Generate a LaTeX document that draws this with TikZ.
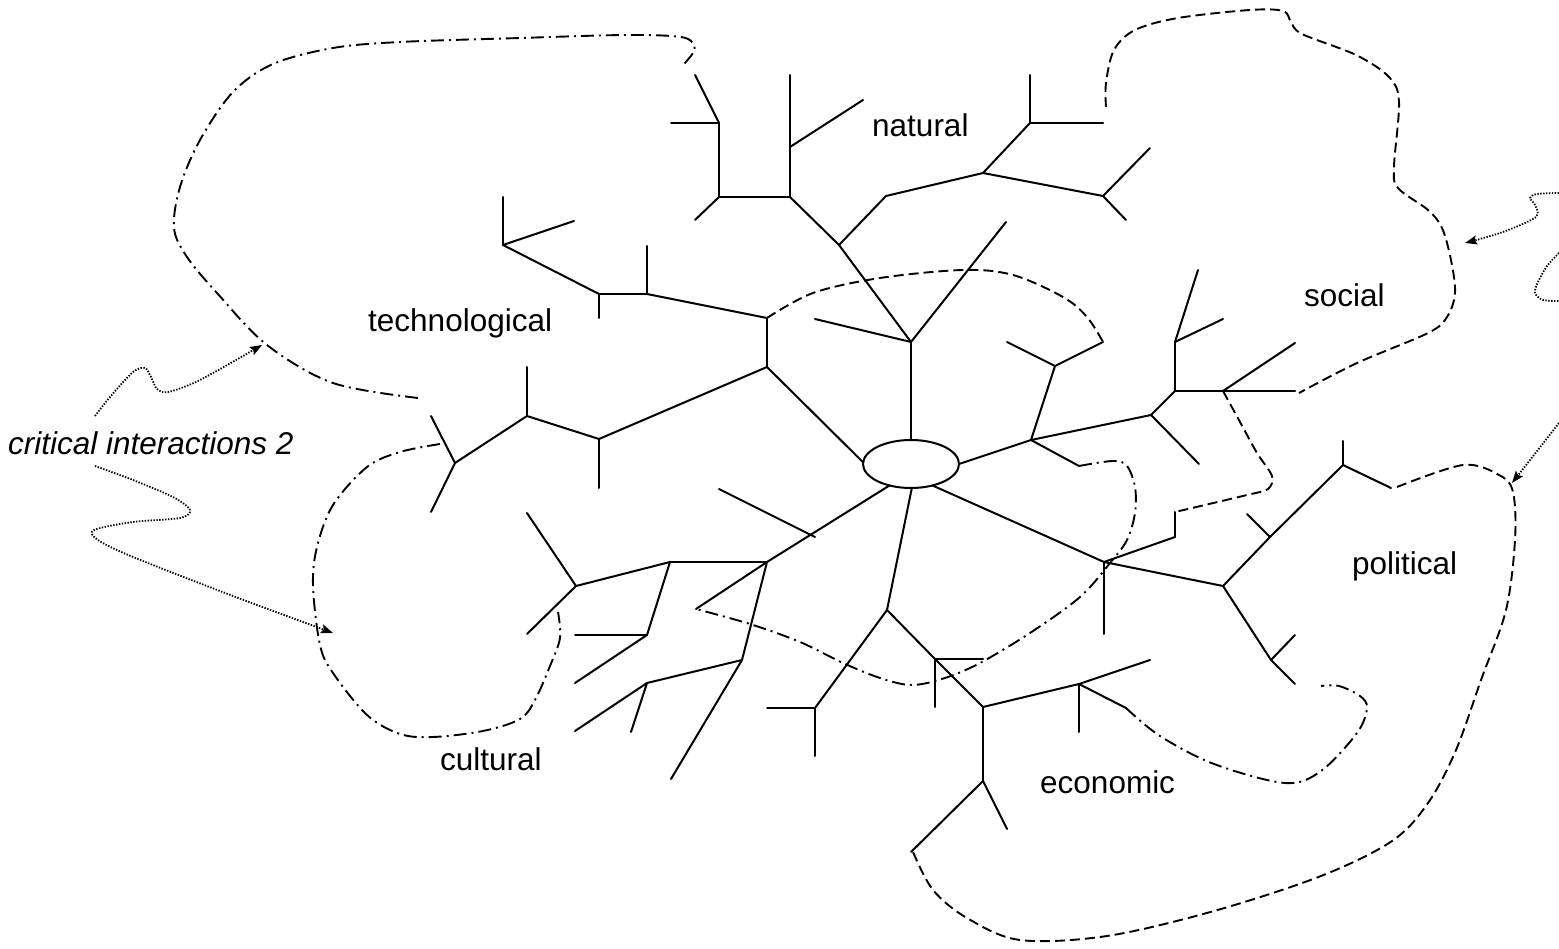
\documentclass[tikz,border=0pt]{standalone}
\usepackage{fontspec}
\setmainfont{Liberation Sans}
\usetikzlibrary{shapes.geometric,arrows.meta}

\tikzset{
  branch/.style={line width=2pt, line cap=round, line join=round},
  dashline/.style={line width=1.9pt, dash pattern=on 10pt off 5pt},
  dashdotline/.style={line width=1.9pt, dash pattern=on 13pt off 5pt on 2pt off 5pt},
  dotline/.style={line width=1.8pt, dash pattern=on 1.4pt off 1.5pt,
    -{Stealth[length=12pt,width=9pt,inset=2pt]}},
  dotplain/.style={line width=1.8pt, dash pattern=on 1.4pt off 1.5pt},
  lbl/.style={anchor=base west, inner sep=0pt, font=\fontsize{31.5}{36}\selectfont},
}

\begin{document}
\begin{tikzpicture}[x=1pt,y=-1pt]
\useasboundingbox (0,0) rectangle (1559,949);

% central hub
\node[draw, ellipse, line width=2pt, minimum width=96pt, minimum height=48pt,
      inner sep=0pt, outer sep=0pt] (hub) at (911,464) {};

% junctions (n..) and branch ends (t..)
\foreach \n/\x/\y in {
  n1/911/342, t1/815/319, t2/1006/222, n2/839/245, n3/790/197, n4/886/196,
  n5/983/173, n6/1030/123, t3/1030/75, t4/1103/123, n7/1103/196, t5/1150/148,
  t6/1126/220, na/790/147, t7/790/75, t8/863/100, n8/719/197, n9/719/123,
  t9/671/123, t10/695/75, t11/695/220,
  n10/767/367, n11/767/318, n12/647/294, t12/647/246, n13/599/294, t13/599/318,
  n14/503/245, t14/503/197, t15/574/221, n15/599/439, t16/599/488, n16/527/416,
  t17/527/367, n17/455/463, t18/431/416, t19/431/512,
  n18/767/562, c1/719/489, c2/815/537, n19/670/562, t20/696/609, n20/742/660,
  n21/576/586, t21/527/513, t22/527/634, n22/647/635, t23/575/635, t24/575/683,
  n23/647/683, t25/575/731, t26/631/732, t27/671/779,
  n24/887/610, n25/815/708, t28/767/708, t29/815/756, n26/935/659, t30/983/659,
  t31/935/707, n27/983/707, n28/1079/684, t32/1150/660, t33/1079/732,
  t34/1126/708, n29/983/781, t35/911/852, t36/1007/829,
  n30/1104/562, t37/1104/634, n40/1175/537, t38/1175/512, n31/1223/586,
  n41/1270/537, t39/1247/514, n32/1343/465, t40/1343/441, t41/1391/488,
  n33/1271/660, t42/1295/635, t43/1295/684,
  n34/1031/440, n35/1055/366, t44/1007/342, t45/1103/342, t46/1079/466,
  n36/1151/415, t47/1199/464, n37/1175/391, n38/1175/342, t48/1198/270,
  t49/1223/319, n39/1223/391, t50/1295/391, t51/1295/343}
  \coordinate (\n) at (\x,\y);

% tree branches
\foreach \a/\b in {
  hub.north/n1, n1/t1, n1/t2, n1/n2, n2/n3, n2/n4, n4/n5, n5/n6, n6/t3, n6/t4,
  n5/n7, n7/t5, n7/t6, n3/na, na/t7, na/t8, n3/n8, n8/n9, n9/t9, n9/t10, n8/t11,
  hub.178/n10, n10/n11, n11/n12, n12/t12, n12/n13, n13/t13, n13/n14, n14/t14,
  n14/t15, n10/n15, n15/t16, n15/n16, n16/t17, n16/n17, n17/t18, n17/t19,
  hub.-135/n18, c1/c2, n18/n19, n18/t20, n18/n20, n19/n21, n21/t21, n21/t22,
  n19/n22, n22/t23, n22/t24, n20/n23, n23/t25, n23/t26, n20/t27,
  hub.-88/n24, n24/n25, n25/t28, n25/t29, n24/n26, n26/t30, n26/t31, n26/n27,
  n27/n28, n28/t32, n28/t33, n28/t34, n27/n29, n29/t35, n29/t36,
  hub.-45/n30, n30/t37, n30/n40, n40/t38, n30/n31, n31/n41, n41/n32, n41/t39,
  n32/t40, n32/t41, n31/n33, n33/t42, n33/t43,
  hub.east/n34, n34/n35, n35/t44, n35/t45, n34/t46, n34/n36, n36/t47, n36/n37,
  n37/n38, n38/t48, n38/t49, n37/n39, n39/t50, n39/t51}
  \draw[branch] (\a) -- (\b);

% technological boundary
\draw[dashdotline] plot[smooth, tension=0.55] coordinates {
  (418,398) (333,383) (267,345) (217,293) (187,257) (174,228) (180,187)
  (200,140) (233,92) (273,64) (333,48) (400,42) (520,38) (626,35) (681,37)
  (694,45) (693,53) (684,64)};

% social boundary
\draw[dashline] plot[smooth, tension=0.55] coordinates {
  (1106,107) (1106,83) (1114,50) (1135,30) (1178,18) (1250,10) (1283,11)
  (1291,22) (1302,34) (1356,55) (1389,77) (1399,102) (1394,167) (1398,188)
  (1428,210) (1442,228) (1451,260) (1455,293) (1447,317) (1428,333)
  (1357,363) (1299,393)};

% inner arc over the natural trunk
\draw[dashline] plot[smooth, tension=0.55] coordinates {
  (n11) (813,293) (880,278) (963,270) (1013,275) (1063,297) (1087,317) (t45)};

% social to economic link
\draw[dashline] plot[smooth, tension=0.5] coordinates {
  (n39) (1240,422) (1257,453) (1272,476) (1268,489) (1247,495) (t38)};

% political boundary
\draw[dashline] plot[smooth, tension=0.55] coordinates {
  (1397,487) (1463,465) (1499,475) (1513,492) (1515,540) (1506,610)
  (1481,680) (1456,750) (1428,803) (1392,841) (1321,876) (1214,911)
  (1107,936) (1020,940) (967,918) (933,890) (913,852)};

% economic boundary
\draw[dashdotline] plot[smooth, tension=0.55] coordinates {
  (t34) (1160,736) (1214,764) (1285,783) (1321,771) (1357,733) (1367,708)
  (1360,696) (1339,686) (1321,686)};

% inner link through the centre
\draw[dashdotline] plot[smooth, tension=0.55] coordinates {
  (t46) (1113,461) (1127,466) (1135,487) (1135,513) (1127,540) (1110,563)
  (1080,597) (1030,633) (980,663) (945,678) (912,685) (880,678) (843,663)
  (800,642) (750,624) (t20)};

% cultural boundary
\draw[dashdotline] plot[smooth, tension=0.55] coordinates {
  (440,444) (400,452) (367,467) (333,505) (317,547) (313,586) (320,645)
  (333,673) (367,715) (400,734) (433,737) (483,731) (520,719) (535,700)
  (550,666) (560,638) (558,612)};

% labels
\node[lbl] (natural) at (872,137) {natural};
\node[lbl] (technological) at (368,332) {technological};
\node[lbl] (social) at (1304,307) {social};
\node[lbl] (political) at (1352,574) {political};
\node[lbl] (cultural) at (440,770) {cultural};
\node[lbl] (economic) at (1040,793) {economic};
\node[lbl, font=\fontsize{31.5}{36}\selectfont\itshape] (critical) at (8,455)
  {critical interactions 2};

% pointers
\coordinate (pTech) at (262,345);
\coordinate (pCult) at (333,633);
\coordinate (pSoc) at (1465,243);
\coordinate (pPol) at (1512,483);
\draw[dotline] plot[smooth, tension=0.5] coordinates {
  (95,416) (110,397) (133,372) (145,368) (151,377) (157,389) (168,392)
  (200,380) (pTech)};
\draw[dotline] plot[smooth, tension=0.5] coordinates {
  (95,466) (133,480) (173,497) (190,510) (180,518) (133,522) (94,530)
  (98,540) (133,557) (233,596) (pCult)};
\draw[dotline] plot[smooth, tension=0.5] coordinates {
  (1559,193) (1537,194) (1530,198) (1535,205) (1536,217) (1503,232) (pSoc)};
\draw[dotplain] plot[smooth, tension=0.5] coordinates {
  (1559,253) (1547,266) (1538,282) (1535,293) (1543,300) (1559,301)};
\draw[dotline] (1559,423) -- (pPol);
\end{tikzpicture}
\end{document}
